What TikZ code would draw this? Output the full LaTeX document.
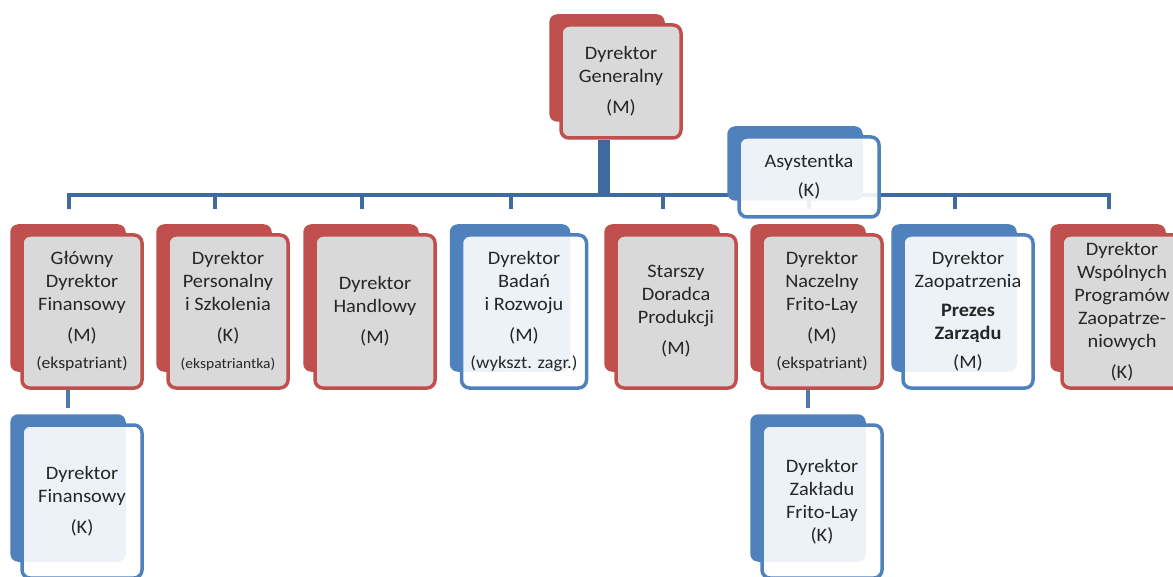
\documentclass[tikz,border=0pt]{standalone}
\usepackage{fontspec}
\setmainfont{Carlito}[FakeStretch=1.07]
\usetikzlibrary{backgrounds}
\definecolor{czerw}{HTML}{C0504D}
\definecolor{nieb}{HTML}{4F81BD}
\definecolor{linia}{HTML}{3D6AA1}
\definecolor{szary}{HTML}{D9D9D9}
\newcommand\tyl[2]{\fill[#2,rounded corners=8pt] ([shift={(-10pt,9pt)}]#1.north west) rectangle ([shift={(-18pt,18pt)}]#1.south east);}
\newcommand\ma{\fontsize{16.5}{19}\selectfont}
\newcommand\mb{\fontsize{14.5}{17}\selectfont}
\newcommand\mc{\fontsize{17.5}{20}\selectfont}
\begin{document}
\begin{tikzpicture}[x=1pt,y=-1pt,
  czbox/.style={draw=czerw,fill=szary,line width=3.5pt,rounded corners=8pt,align=center,
    minimum width=120pt,minimum height=153pt,inner sep=0pt,
    font=\fontsize{19}{23}\selectfont,text=black!85},
  nbbox/.style={czbox,draw=nieb,fill=white,fill opacity=0.9,text opacity=1},
  szyna/.style={linia,line width=4pt,line cap=rect},
  trzon/.style={linia,line width=12pt},
  laczn/.style={linia!90!white,line width=3.5pt}]
\useasboundingbox (0,0) rectangle (1173,577);
\node[czbox,minimum height=113pt] (gen) at (621,81.5) {Dyrektor\\Generalny\\[8pt](M)};
\node[nbbox,minimum width=140pt,minimum height=80pt] (asyst) at (809,177) {Asystentka\\[6pt](K)};
\node[czbox] (glowny) at (82,311.5) {Główny\\Dyrektor\\Finansowy\\[8pt](M)\\[4pt]{\ma(ekspatriant)}};
\node[czbox] (kadry) at (228,311.5) {Dyrektor\\Personalny\\i Szkolenia\\[8pt](K)\\[4pt]{\mb(ekspatriantka)}};
\node[czbox] (handel) at (375,311.5) {Dyrektor\\Handlowy\\[8pt](M)};
\node[nbbox,minimum width=125pt] (badania) at (524,311.5) {Dyrektor\\Badań\\i Rozwoju\\[8pt](M)\\[4pt]{\mc(wykszt. zagr.)}};
\node[czbox] (doradca) at (676,311.5) {Starszy\\Doradca\\Produkcji\\[8pt](M)};
\node[czbox] (naczelny) at (822,311.5) {Dyrektor\\Naczelny\\Frito-Lay\\[8pt](M)\\[4pt]{\ma(ekspatriant)}};
\node[nbbox,minimum width=130pt] (zaop) at (968,311.5) {Dyrektor\\Zaopatrzenia\\[6pt]\textbf{Prezes}\\\textbf{Zarządu}\\[6pt](M)};
\node[czbox] (wspolne) at (1122,311.5) {Dyrektor\\Wspólnych\\Programów\\Zaopatrze-\\niowych\\[8pt](K)};
\node[nbbox] (finanse) at (82,501.5) {Dyrektor\\Finansowy\\[8pt](K)};
\node[nbbox] (zaklad) at (822,501.5) {Dyrektor\\Zakładu\\Frito-Lay\\(K)};
\begin{scope}[on background layer]
\fill[white] (0,0) rectangle (1173,577);
\coordinate (szyna) at (0,195);
\draw[trzon] ([xshift=-17pt]gen.south) -- ([xshift=-17pt]gen.south |- szyna);
\draw[szyna] ([xshift=-13.5pt]glowny.north |- szyna) -- ([xshift=-13.5pt]wspolne.north |- szyna);
\foreach \n in {glowny,kadry,handel,badania,doradca,naczelny,zaop,wspolne}
  \draw[szyna] ([xshift=-13.5pt]\n.north |- szyna) -- ++(0,12);
\draw[laczn] ([xshift=-14pt]glowny.south) -- ([xshift=-14pt,yshift=15pt]finanse.north);
\draw[laczn] ([xshift=-14pt]naczelny.south) -- ([xshift=-14pt,yshift=15pt]zaklad.north);
\foreach \n/\k in {gen/czerw,asyst/nieb,glowny/czerw,kadry/czerw,handel/czerw,badania/nieb,
  doradca/czerw,naczelny/czerw,zaop/nieb,wspolne/czerw,finanse/nieb,zaklad/nieb}
  {\tyl{\n}{\k}}
\end{scope}
\end{tikzpicture}
\end{document}
